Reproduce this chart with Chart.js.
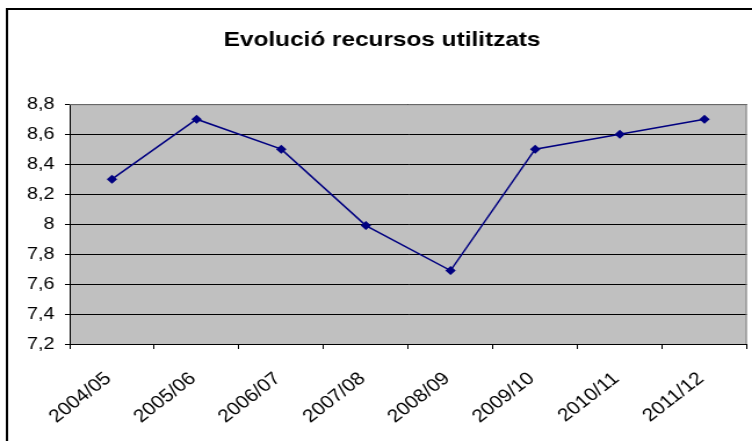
<!DOCTYPE html>
<html>
<head>
<meta charset="utf-8">
<script src="https://cdn.jsdelivr.net/npm/chart.js@4.4.0/dist/chart.umd.min.js"></script>
<style>
  html, body { margin: 0; padding: 0; background: #fff; overflow: hidden; }
  /* the original picture is a bit wider than tall, so draw at 648 and stretch */
  #wrap { width: 648px; height: 441px; transform: scaleX(1.1605); transform-origin: 0 0; }
</style>
</head>
<body>
<div id="wrap"><canvas id="chart" width="648" height="441"></canvas></div>
<script>
// course years and the values
const cursos = ['2004/05', '2005/06', '2006/07', '2007/08', '2008/09', '2009/10', '2010/11', '2011/12'];
const recursos = [8.3, 8.7, 8.5, 7.99, 7.69, 8.5, 8.6, 8.7];
const yMin = 7.2, yMax = 8.8, yStep = 0.2;

// white page, outer frame and gray plot area like the spreadsheet chart
const frame = {
    id: 'frame',
    beforeDraw(chart) {
        const ctx = chart.ctx, a = chart.chartArea;
        ctx.save();
        ctx.fillStyle = '#fff';
        ctx.fillRect(0, 0, chart.width, chart.height);
        ctx.strokeStyle = '#000';
        ctx.lineWidth = 2;
        ctx.strokeRect(6, 9, chart.width + 20, chart.height + 20);
        ctx.fillStyle = '#c0c0c0';
        ctx.fillRect(a.left, a.top, a.right - a.left, a.bottom - a.top);
        ctx.restore();
    },
    beforeDatasetsDraw(chart) {
        const ctx = chart.ctx, a = chart.chartArea;
        ctx.save();
        ctx.strokeStyle = '#808080';
        ctx.lineWidth = 1;
        ctx.beginPath();
        ctx.moveTo(a.left, a.top + 0.5);
        ctx.lineTo(a.right - 0.5, a.top + 0.5);
        ctx.lineTo(a.right - 0.5, a.bottom);
        ctx.stroke();
        ctx.restore();
    }
};

new Chart(document.getElementById('chart'), {
    type: 'line',
    data: {
        labels: cursos,
        datasets: [{
            data: recursos,
            borderColor: '#000080',
            backgroundColor: '#000080',
            borderWidth: 1.5,
            pointStyle: 'rectRot',
            pointRadius: 4.5,
            pointBorderWidth: 0,
            tension: 0
        }]
    },
    options: {
        responsive: false,
        animation: false,
        layout: { padding: { left: 12, right: 1.5, top: 0, bottom: 0 } },
        plugins: {
            legend: { display: false },
            tooltip: { enabled: false },
            title: {
                display: true,
                text: 'Evolució recursos utilitzats',
                color: '#000',
                font: { family: 'Arial, "Liberation Sans"', size: 21, weight: 'bold' },
                padding: { top: 28, bottom: 51 }
            }
        },
        scales: {
            x: {
                offset: true,
                grid: { offset: true, drawOnChartArea: false, color: '#000', tickLength: 5 },
                border: { color: '#000', width: 1 },
                ticks: {
                    color: '#000',
                    font: { family: 'Arial, "Liberation Sans"', size: 18 },
                    minRotation: 42,
                    maxRotation: 42,
                    padding: 19,
                    labelOffset: -3
                },
                afterFit(scale) { scale.height = 97; }
            },
            y: {
                min: yMin,
                max: yMax,
                grid: { color: '#000', tickLength: 4 },
                border: { color: '#000', width: 1 },
                ticks: {
                    stepSize: yStep,
                    color: '#000',
                    font: { family: 'Arial, "Liberation Sans"', size: 17 },
                    padding: 9,
                    callback: v => String(Math.round(v * 10) / 10).replace('.', ',')
                },
                afterFit(scale) { scale.width = 48; }
            }
        }
    },
    plugins: [frame]
});
</script>
</body>
</html>
